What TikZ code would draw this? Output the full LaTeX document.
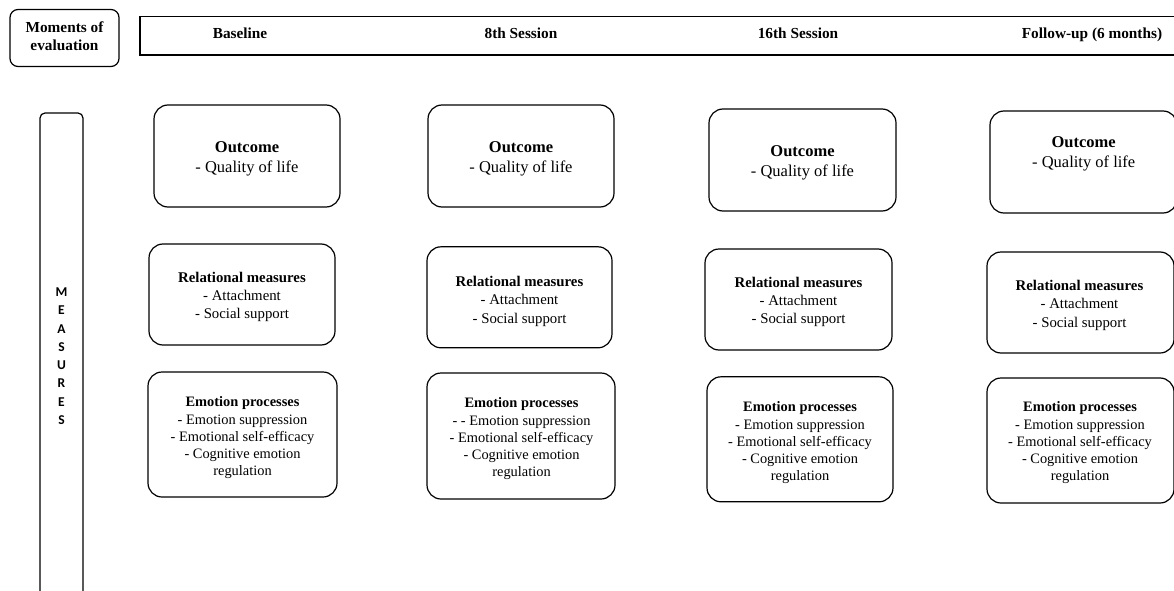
\documentclass[tikz,border=0pt]{standalone}
\usepackage{fontspec}
\setmainfont{Liberation Serif}
\newfontfamily\barfont{Carlito}
\begin{document}
\begin{tikzpicture}[x=1pt,y=-1pt,
  frame/.style={draw=black, line width=1.2pt, rounded corners=14pt, inner sep=0pt, outer sep=0pt},
  blocktext/.style={align=center, anchor=north, inner sep=0pt},
  outtext/.style={blocktext, font=\fontsize{16.5}{20}\selectfont},
  reltext/.style={blocktext, font=\fontsize{14.8}{18.3}\selectfont},
  emotext/.style={blocktext, font=\fontsize{14.4}{17.1}\selectfont},
  head/.style={font=\fontsize{15.3}{18.3}\selectfont\bfseries, anchor=base, inner sep=0pt}]
\clip (0,0) rectangle (1174,591);

% top-left label
\node[frame, rounded corners=8pt, minimum width=109pt, minimum height=57pt] (moments) at (64.5,38) {};
\node[blocktext, font=\fontsize{15.3}{18.3}\selectfont\bfseries] (momentst) at (64.5,21.5) {Moments of\\evaluation};

% time line header
\node[draw=black, line width=1.2pt, inner sep=0pt, outer sep=0pt, minimum width=1060pt, minimum height=38.3pt] (hdr) at (670,35.85) {};
\node[head] (hbase) at (240,38.5) {Baseline};
\node[head] (h8) at (521,38.5) {8th Session};
\node[head] (h16) at (798,38.5) {16th Session};
\node[head] (hfu) at (1092,38.5) {Follow-up (6 months)};

% vertical measures bar
\draw[line width=1.2pt, rounded corners=5pt] (40,610) -- (40,113) -- (83,113) -- (83,610);
\node[blocktext, font=\barfont\fontsize{13.5}{18.3}\selectfont\bfseries] (measures) at (61.5,287.5) {M\\E\\A\\S\\U\\R\\E\\S};

% outcome boxes
\node[frame, minimum width=186pt, minimum height=102pt] (out1) at (247,156) {};
\node[frame, minimum width=186pt, minimum height=102pt] (out2) at (521,156) {};
\node[frame, minimum width=187pt, minimum height=102pt] (out3) at (802.5,160) {};
\node[frame, minimum width=187pt, minimum height=102pt] (out4) at (1083.5,162) {};
\node[outtext] (out1t) at (247,141.1) {\textbf{Outcome}\\- Quality of life};
\node[outtext] (out2t) at (521,141.1) {\textbf{Outcome}\\- Quality of life};
\node[outtext] (out3t) at (802.5,145.4) {\textbf{Outcome}\\- Quality of life};
\node[outtext] (out4t) at (1083.7,136.7) {\textbf{Outcome}\\- Quality of life};

% relational boxes
\node[frame, minimum width=186pt, minimum height=101pt] (rel1) at (242,294.5) {};
\node[frame, minimum width=185pt, minimum height=101pt] (rel2) at (519.5,297.3) {};
\node[frame, minimum width=187pt, minimum height=101pt] (rel3) at (798.5,299.5) {};
\node[frame, minimum width=187pt, minimum height=101pt] (rel4) at (1080.5,302.5) {};
\node[reltext] (rel1t) at (242,271.7) {\textbf{Relational measures}\\- Attachment\\- Social support};
\node[reltext] (rel2t) at (519.5,276) {\textbf{Relational measures}\\- Attachment\\- Social support};
\node[reltext] (rel3t) at (798.5,276.7) {\textbf{Relational measures}\\- Attachment\\- Social support};
\node[reltext] (rel4t) at (1079.5,280) {\textbf{Relational measures}\\- Attachment\\- Social support};

% emotion boxes
\node[frame, minimum width=189pt, minimum height=125pt] (emo1) at (242.5,434.5) {};
\node[frame, minimum width=188pt, minimum height=126pt] (emo2) at (521,436) {};
\node[frame, minimum width=186pt, minimum height=125pt] (emo3) at (800,439.3) {};
\node[frame, minimum width=187pt, minimum height=125pt] (emo4) at (1080.5,440.5) {};
\node[emotext] (emo1t) at (242.5,396.8) {\textbf{Emotion processes}\\- Emotion suppression\\- Emotional self-efficacy\\- Cognitive emotion\\regulation};
\node[emotext] (emo2t) at (521.5,397.8) {\textbf{Emotion processes}\\- - Emotion suppression\\- Emotional self-efficacy\\- Cognitive emotion\\regulation};
\node[emotext] (emo3t) at (800,401.8) {\textbf{Emotion processes}\\- Emotion suppression\\- Emotional self-efficacy\\- Cognitive emotion\\regulation};
\node[emotext] (emo4t) at (1080,401.8) {\textbf{Emotion processes}\\- Emotion suppression\\- Emotional self-efficacy\\- Cognitive emotion\\regulation};
\end{tikzpicture}
\end{document}
